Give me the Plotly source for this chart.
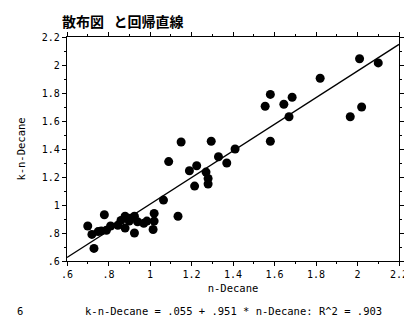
import plotly.graph_objects as go

# Data
n_decane = [0.70, 0.73, 0.72, 0.75, 0.765, 0.78, 0.79, 0.81, 0.845, 0.86,
            0.88, 0.90, 0.925, 0.94, 0.97, 0.88, 0.925, 0.905, 1.02, 1.02,
            1.015, 1.065, 1.135, 1.09, 1.15, 1.19, 1.225, 1.215, 1.27, 1.28,
            1.28, 1.295, 1.33, 1.37, 1.41, 1.58, 1.555, 1.58, 1.645, 1.685,
            1.67, 1.82, 1.965, 2.02, 2.01, 2.10, 0.985]
k_n_decane = [0.85, 0.69, 0.79, 0.81, 0.815, 0.93, 0.82, 0.85, 0.855, 0.89,
              0.92, 0.885, 0.92, 0.88, 0.87, 0.835, 0.80, 0.905, 0.94, 0.885,
              0.825, 1.035, 0.92, 1.31, 1.45, 1.245, 1.28, 1.135, 1.235, 1.19,
              1.15, 1.455, 1.345, 1.30, 1.40, 1.455, 1.705, 1.79, 1.72, 1.77,
              1.63, 1.905, 1.63, 1.70, 2.045, 2.015, 0.885]

intercept = 0.055
slope = 0.951
r2 = 0.903
x_range = [0.6, 2.2]
tick_vals = [0.6, 0.8, 1.0, 1.2, 1.4, 1.6, 1.8, 2.0, 2.2]
tick_text = [".6", ".8", "1", "1.2", "1.4", "1.6", "1.8", "2", "2.2"]

fit_y = [intercept + slope * x for x in x_range]

mono = "DejaVu Sans Mono"

fig = go.Figure()
fig.add_trace(go.Scatter(x=x_range, y=fit_y, mode="lines",
                         line=dict(color="black", width=1.3),
                         hoverinfo="skip", showlegend=False))
fig.add_trace(go.Scatter(x=n_decane, y=k_n_decane, mode="markers",
                         marker=dict(color="black", size=9),
                         showlegend=False))

axis_common = dict(
    range=x_range, tickvals=tick_vals, ticktext=tick_text,
    showline=True, linecolor="black", linewidth=1.2, mirror="ticks",
    ticks="outside", ticklen=4, tickcolor="black", tickwidth=1,
    minor=dict(dtick=0.1, ticks="outside", ticklen=2, tickcolor="black"),
    showgrid=False, zeroline=False,
    tickfont=dict(family=mono, size=10, color="black"),
)

fig.update_xaxes(**axis_common,
                 title=dict(text="n-Decane", font=dict(family=mono, size=10.5, color="black"),
                            standoff=5))
fig.update_yaxes(**axis_common,
                 title=dict(text="k-n-Decane", font=dict(family=mono, size=10.5, color="black"),
                            standoff=14))

fig.add_annotation(text="<b>散布図&nbsp;&nbsp;&nbsp;と回帰直線</b>", xref="paper", yref="paper",
                   x=-0.02, y=1.0, yshift=4, xanchor="left", yanchor="bottom",
                   showarrow=False,
                   font=dict(family="Noto Sans CJK JP", size=14, color="black"))
fig.add_annotation(text=f"k-n-Decane = {str(intercept)[1:]} + {str(slope)[1:]} * n-Decane: R^2 = {str(r2)[1:]}",
                   xref="paper", yref="paper", x=0.5, y=0, yshift=-50,
                   xanchor="center", yanchor="middle", showarrow=False,
                   font=dict(family=mono, size=10.5, color="black"))
fig.add_annotation(text="6", xref="paper", yref="paper", x=0, xshift=-52,
                   y=0, yshift=-50, xanchor="left", yanchor="middle",
                   showarrow=False, font=dict(family=mono, size=10.5, color="black"))

fig.update_layout(width=412, height=320,
                  margin=dict(l=58, r=14, t=29, b=67),
                  plot_bgcolor="white", paper_bgcolor="white")

fig.write_html("out.html")
